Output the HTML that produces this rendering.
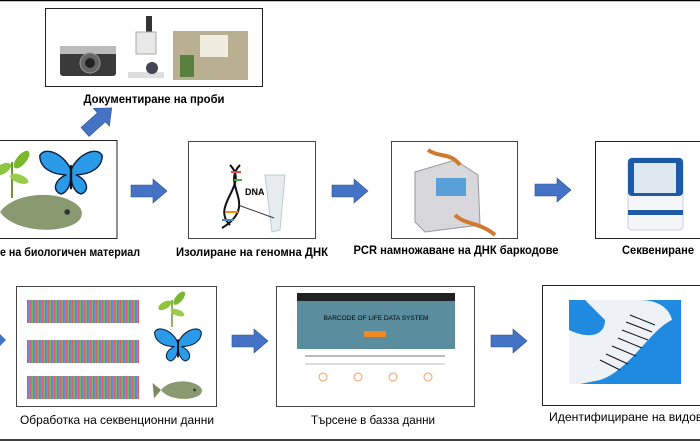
<!DOCTYPE html>
<html><head><meta charset="utf-8"><style>
html,body{margin:0;padding:0;background:#fff;width:700px;height:441px;overflow:hidden}
svg{display:block}
text{font-family:"Liberation Sans",sans-serif;fill:#000}
.b{font-weight:bold;font-size:12px}
.n{font-size:12px}
</style></head><body>
<svg width="700" height="441" viewBox="0 0 700 441" xmlns="http://www.w3.org/2000/svg">
<defs>
<g id="arr"><polygon points="0,-6 22,-6 22,-12 36,0 22,12 22,6 0,6" fill="#4472c4" stroke="#2f528f" stroke-width="0.6"/></g>
<pattern id="seq" width="6" height="4" patternUnits="userSpaceOnUse">
<rect width="6" height="4" fill="#9a7fd0"/><rect x="0" width="1.5" height="4" fill="#e06060"/><rect x="1.5" width="1.5" height="4" fill="#60c070"/><rect x="3" width="1.5" height="4" fill="#6080e0"/>
</pattern>
<g id="bfly">
<path d="M0,0 C-6,-14 -22,-20 -26,-12 C-26,-2 -16,4 -4,4 C-14,8 -16,18 -8,20 C-2,18 0,10 0,4 Z" fill="#2a9be8" stroke="#102040" stroke-width="1.2"/>
<path d="M0,0 C6,-14 22,-20 26,-12 C26,-2 16,4 4,4 C14,8 16,18 8,20 C2,18 0,10 0,4 Z" fill="#2a9be8" stroke="#102040" stroke-width="1.2"/>
<rect x="-1" y="-4" width="2" height="20" fill="#111"/>
</g>
<g id="fish">
<path d="M-30,0 C-20,-14 10,-16 24,-6 C30,-2 30,4 24,8 C10,16 -20,14 -30,0 Z" fill="#8a9a70"/>
<path d="M-30,0 L-42,-10 L-40,12 Z" fill="#7a8a60"/>
<circle cx="18" cy="0" r="2" fill="#333"/>
</g>
<g id="plant">
<path d="M0,30 L0,0" stroke="#5a8a2a" stroke-width="1.5"/>
<ellipse cx="-8" cy="6" rx="8" ry="4" fill="#8cc63f" transform="rotate(-30 -8 6)"/>
<ellipse cx="8" cy="-2" rx="9" ry="4" fill="#7ab82e" transform="rotate(-50 8 -2)"/>
<ellipse cx="6" cy="14" rx="8" ry="3.5" fill="#9ccc4a" transform="rotate(20 6 14)"/>
</g>
</defs>

<line x1="0" y1="0.5" x2="700" y2="0.5" stroke="#000" stroke-width="1.5"/>
<line x1="0" y1="440" x2="700" y2="440" stroke="#000" stroke-width="1.5"/>

<rect x="45.5" y="8.5" width="217" height="78" fill="#fff" stroke="#222" stroke-width="1"/>
<rect x="60" y="46" width="56" height="30" rx="3" fill="#3a3a3a"/><rect x="60" y="46" width="56" height="8" fill="#bbb"/>
<circle cx="90" cy="63" r="10" fill="#666" stroke="#999"/><circle cx="90" cy="63" r="5" fill="#222"/>
<rect x="146" y="16" width="6" height="18" fill="#333"/><rect x="136" y="32" width="20" height="22" fill="#e8e8e8" stroke="#aaa"/>
<rect x="128" y="72" width="36" height="6" fill="#ddd"/><circle cx="152" cy="68" r="6" fill="#445"/>
<rect x="173" y="31" width="75" height="49" fill="#b8b090"/><rect x="200" y="35" width="28" height="22" fill="#f0ece0"/><rect x="180" y="55" width="14" height="22" fill="#5a8040"/>
<text class="b" x="154" y="103" text-anchor="middle" textLength="141" lengthAdjust="spacingAndGlyphs">Документиране на проби</text>

<g transform="translate(85,132) rotate(-42)"><use href="#arr"/></g>

<rect x="-2" y="140.5" width="119" height="98" fill="#fff" stroke="#222"/>
<use href="#plant" transform="translate(12,162) scale(1.2)"/>
<use href="#bfly" transform="translate(71,170) scale(1.2)"/>
<use href="#fish" transform="translate(42,212) scale(1.4)"/>
<text class="b" x="0" y="256" textLength="140" lengthAdjust="spacingAndGlyphs">е на биологичен материал</text>
<use href="#arr" transform="translate(131,191)"/>

<rect x="188.5" y="141.5" width="127" height="97" fill="#fff" stroke="#444"/>
<path d="M230,165 C250,185 210,205 230,225" stroke="#111" stroke-width="2" fill="none"/>
<path d="M240,165 C220,185 260,205 222,228" stroke="#111" stroke-width="2" fill="none"/>
<g stroke-width="2"><line x1="231" y1="172" x2="241" y2="172" stroke="#e44"/><line x1="234" y1="180" x2="242" y2="180" stroke="#4a4"/><line x1="225" y1="212" x2="238" y2="212" stroke="#f80"/><line x1="222" y1="220" x2="234" y2="220" stroke="#48c"/></g>
<text x="245" y="195" font-size="9" font-weight="bold" fill="#f80">DNA</text>
<path d="M265,175 L285,175 L280,230 L272,232 Z" fill="#e8ecef" stroke="#bcc"/>
<line x1="238" y1="205" x2="274" y2="218" stroke="#333"/>
<text class="b" x="252" y="256" text-anchor="middle" textLength="152" lengthAdjust="spacingAndGlyphs">Изолиране на геномна ДНК</text>
<use href="#arr" transform="translate(332,191)"/>

<rect x="391.5" y="141.5" width="126" height="97" fill="#fff" stroke="#444"/>
<path d="M415,172 L455,160 L478,175 L480,225 L425,232 L415,222 Z" fill="#d8d8dc" stroke="#999"/>
<rect x="436" y="178" width="30" height="18" fill="#5aa0d8"/>
<path d="M455,215 C465,225 480,222 495,235" stroke="#d07a30" stroke-width="4" fill="none"/>
<path d="M428,150 C440,158 450,152 460,165" stroke="#d07a30" stroke-width="4" fill="none"/>
<text class="b" x="456" y="254" text-anchor="middle" textLength="205" lengthAdjust="spacingAndGlyphs">PCR намножаване на ДНК баркодове</text>
<use href="#arr" transform="translate(535,190)"/>

<rect x="595.5" y="141.5" width="106" height="97" fill="#fff" stroke="#222"/>
<rect x="628" y="158" width="55" height="72" rx="4" fill="#f4f6fa" stroke="#ccd"/>
<rect x="628" y="158" width="55" height="38" rx="4" fill="#1e5aa8"/>
<rect x="634" y="163" width="42" height="30" fill="#dfe8f0"/>
<rect x="628" y="210" width="55" height="5" fill="#1e5aa8"/>
<text class="b" x="658" y="254" text-anchor="middle" textLength="72" lengthAdjust="spacingAndGlyphs">Секвениране</text>

<polygon points="0,334 6,340 0,346" fill="#4472c4"/>
<rect x="16.5" y="286.5" width="200" height="120" fill="#fff" stroke="#444"/>
<rect x="27" y="300" width="112" height="23" fill="url(#seq)"/>
<rect x="27" y="340" width="112" height="23" fill="url(#seq)"/>
<rect x="27" y="376" width="112" height="23" fill="url(#seq)"/>
<use href="#plant" transform="translate(172,300) scale(0.9)"/>
<use href="#bfly" transform="translate(178,343) scale(0.9)"/>
<use href="#fish" transform="translate(182,390) scale(0.7)"/>
<text class="n" x="117" y="424" text-anchor="middle" textLength="194" lengthAdjust="spacingAndGlyphs">Обработка на секвенционни данни</text>
<use href="#arr" transform="translate(232,341)"/>

<rect x="276.5" y="286.5" width="198" height="120" fill="#fff" stroke="#444"/>
<rect x="297" y="293" width="158" height="8" fill="#222"/>
<rect x="297" y="301" width="158" height="48" fill="#5a8e9e"/>
<text x="376" y="320" font-size="6.5" fill="#fff" text-anchor="middle">BARCODE OF LIFE DATA SYSTEM</text>
<rect x="364" y="331" width="22" height="6" fill="#f08a20"/>
<g fill="none" stroke="#f0a060"><circle cx="323" cy="377" r="4"/><circle cx="358" cy="377" r="4"/><circle cx="393" cy="377" r="4"/><circle cx="428" cy="377" r="4"/></g>
<rect x="305" y="355" width="140" height="2" fill="#bbb"/><rect x="305" y="363" width="140" height="2" fill="#ddd"/>
<text class="n" x="373" y="424" text-anchor="middle" textLength="124" lengthAdjust="spacingAndGlyphs">Търсене в базза данни</text>
<use href="#arr" transform="translate(491,341)"/>

<rect x="542.5" y="285.5" width="160" height="120" fill="#fff" stroke="#222"/>
<rect x="569" y="300" width="112" height="84" fill="#1f8ae0"/>
<path d="M585,300 L640,300 C660,300 670,310 672,320 C650,330 630,370 600,380 L580,384 L569,384 L569,330 C590,340 605,335 605,320 Z" fill="#eef2f6"/>
<g stroke="#111" stroke-width="1"><line x1="630" y1="315" x2="655" y2="325"/><line x1="626" y1="322" x2="652" y2="332"/><line x1="622" y1="330" x2="648" y2="340"/><line x1="618" y1="338" x2="642" y2="348"/><line x1="612" y1="346" x2="636" y2="356"/><line x1="606" y1="354" x2="628" y2="364"/><line x1="600" y1="360" x2="620" y2="370"/></g>
<text class="n" x="549" y="421" textLength="160" lengthAdjust="spacingAndGlyphs">Идентифициране на видове</text>
</svg>
</body></html>
